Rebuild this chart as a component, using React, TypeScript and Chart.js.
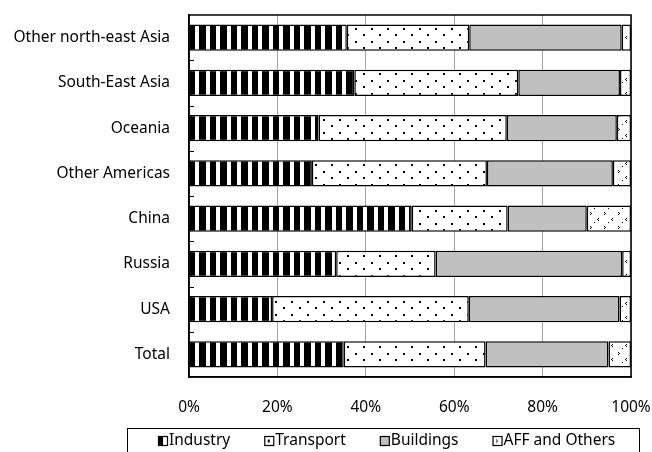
import React, { useEffect, useRef } from "react";
import { Chart, registerables } from "chart.js";

Chart.register(...registerables);

const categories = [
  "Other north-east Asia",
  "South-East Asia",
  "Oceania",
  "Other Americas",
  "China",
  "Russia",
  "USA",
  "Total",
];
const seriesNames = ["Industry", "Transport", "Buildings", "AFF and Others"];
const industry = [35.7, 37.4, 29.3, 27.8, 50.4, 33.3, 18.8, 35.0];
const transport = [27.7, 37.1, 42.6, 39.6, 21.7, 22.5, 44.5, 32.1];
const buildings = [34.5, 23.0, 24.9, 28.5, 17.9, 42.2, 34.1, 27.8];
const affOthers = [2.1, 2.5, 3.2, 4.1, 10.0, 2.0, 2.6, 5.1];
const xTickValues = [0, 20, 40, 60, 80, 100];

const FONT = '"Noto Sans", "Open Sans", sans-serif';
const FSIZE = 15.5;

function tile(w: number, h: number, draw: (c: CanvasRenderingContext2D) => void) {
  const cv = document.createElement("canvas");
  cv.width = w;
  cv.height = h;
  const c = cv.getContext("2d")!;
  draw(c);
  return cv;
}

function buildPatterns(ctx: CanvasRenderingContext2D) {
  const stripes = tile(21, 4, (c) => {
    c.fillStyle = "#fff";
    c.fillRect(0, 0, 21, 4);
    c.fillStyle = "#000";
    c.fillRect(0, 0, 6, 4);
    c.fillRect(10, 0, 7, 4);
  });
  const dots = tile(16, 13, (c) => {
    c.fillStyle = "#fff";
    c.fillRect(0, 0, 16, 13);
    c.fillStyle = "#000";
    c.fillRect(3, 2, 2, 2);
    c.fillRect(11, 8, 2, 2);
  });
  const confetti = tile(14, 14, (c) => {
    c.fillStyle = "#fff";
    c.fillRect(0, 0, 14, 14);
    c.fillStyle = "#000";
    c.fillRect(2, 2, 1, 1);
    c.fillRect(3, 3, 1, 1);
    c.fillRect(2, 4, 1, 1);
    c.fillRect(10, 8, 1, 1);
    c.fillRect(9, 9, 1, 1);
    c.fillRect(10, 10, 1, 1);
    c.fillRect(6, 12, 1, 1);
  });
  return {
    industry: ctx.createPattern(stripes, "repeat")!,
    transport: ctx.createPattern(dots, "repeat")!,
    aff: ctx.createPattern(confetti, "repeat")!,
  };
}

const framePlugin = {
  id: "frameAndLegend",
  afterDraw(chart: any) {
    const { ctx, chartArea } = chart;
    const { left, right, top, bottom } = chartArea;
    ctx.save();
    ctx.strokeStyle = "#000";
    ctx.lineWidth = 1.5;
    ctx.strokeRect(left, top, right - left, bottom - top);
    const yScale = chart.scales.y;
    ctx.lineWidth = 1;
    for (let i = 1; i < categories.length; i++) {
      const yb = (yScale.getPixelForValue(i - 1) + yScale.getPixelForValue(i)) / 2;
      ctx.beginPath();
      ctx.moveTo(left, Math.round(yb) + 0.5);
      ctx.lineTo(left + 5, Math.round(yb) + 0.5);
      ctx.stroke();
    }
    const boxL = 127.5;
    const boxR = 639.5;
    const boxT = 428.5;
    ctx.strokeStyle = "#000";
    ctx.lineWidth = 1;
    ctx.strokeRect(boxL, boxT, boxR - boxL, 40);
    ctx.font = `${FSIZE}px ${FONT}`;
    ctx.textBaseline = "middle";
    ctx.textAlign = "left";
    const icon = 9;
    const gapIT = 2;
    const gapItems = 34;
    const widths = seriesNames.map((t) => icon + gapIT + ctx.measureText(t).width);
    const total = widths.reduce((a, b) => a + b, 0) + gapItems * (seriesNames.length - 1);
    let x = Math.round(387 - total / 2);
    const cy = 440.5;
    seriesNames.forEach((name, i) => {
      const ix = x + 0.5;
      const iy = Math.round(cy - icon / 2) + 0.5;
      ctx.fillStyle = "#fff";
      ctx.fillRect(ix, iy, icon, icon);
      if (i === 0) {
        ctx.fillStyle = "#000";
        ctx.fillRect(ix, iy, icon / 2, icon);
      } else if (i === 1) {
        ctx.fillStyle = "#000";
        ctx.fillRect(ix + 3, iy + 3, 2, 3);
      } else if (i === 2) {
        ctx.fillStyle = "#c0c0c0";
        ctx.fillRect(ix, iy, icon, icon);
      } else {
        ctx.fillStyle = "#000";
        ctx.fillRect(ix + 3, iy + 3, 1, 1);
        ctx.fillRect(ix + 4, iy + 4, 1, 1);
        ctx.fillRect(ix + 3, iy + 5, 1, 1);
      }
      ctx.strokeStyle = "#000";
      ctx.lineWidth = 1.2;
      ctx.strokeRect(ix, iy, icon, icon);
      ctx.fillStyle = "#000";
      ctx.fillText(name, x + icon + gapIT, cy);
      x += widths[i] + gapItems;
    });
    ctx.restore();
  },
};

export default function App() {
  const ref = useRef<HTMLCanvasElement | null>(null);
  useEffect(() => {
    const canvas = ref.current!;
    const ctx = canvas.getContext("2d")!;
    const p = buildPatterns(ctx);
    const common = {
      borderColor: "#000",
      borderWidth: 1.5,
      borderSkipped: false,
      barPercentage: 0.58,
      categoryPercentage: 1,
    };
    const chart = new Chart(ctx, {
      type: "bar",
      data: {
        labels: categories,
        datasets: [
          { label: seriesNames[0], data: industry, backgroundColor: p.industry, ...common },
          { label: seriesNames[1], data: transport, backgroundColor: p.transport, ...common },
          { label: seriesNames[2], data: buildings, backgroundColor: "#c0c0c0", ...common },
          { label: seriesNames[3], data: affOthers, backgroundColor: p.aff, ...common },
        ] as any,
      },
      options: {
        indexAxis: "y",
        animation: false,
        responsive: false,
        maintainAspectRatio: false,
        layout: { padding: { top: 15, right: 21, left: 0, bottom: 0 } },
        plugins: { legend: { display: false }, tooltip: { enabled: false } },
        scales: {
          x: {
            type: "linear",
            stacked: true,
            min: 0,
            max: 100,
            afterBuildTicks: (scale: any) => {
              scale.ticks = xTickValues.map((v) => ({ value: v }));
            },
            afterFit: (scale: any) => {
              scale.height = 75;
              scale.paddingLeft = 0;
              scale.paddingRight = 0;
            },
            grid: { color: "#a6a6a6", lineWidth: 1, drawTicks: false },
            border: { display: true, color: "#000", width: 1.5 },
            ticks: {
              padding: 21,
              color: "#000",
              font: { family: FONT, size: FSIZE },
              callback: (v: any) => `${v}%`,
            },
          },
          y: {
            type: "category",
            stacked: true,
            afterFit: (scale: any) => {
              scale.width = 189;
              scale.paddingTop = 0;
              scale.paddingBottom = 0;
            },
            grid: { display: false, drawTicks: false, tickLength: 0 },
            border: { display: true, color: "#000", width: 1.5 },
            ticks: {
              padding: 19,
              color: "#000",
              font: { family: FONT, size: FSIZE },
            },
          },
        },
      } as any,
      plugins: [framePlugin],
    });
    return () => chart.destroy();
  }, []);
  return (
    <div style={{ position: "fixed", left: 0, top: 0, width: 652, height: 452 }}>
      <canvas ref={ref} width={652} height={452} style={{ width: 652, height: 452, display: "block" }} />
    </div>
  );
}
